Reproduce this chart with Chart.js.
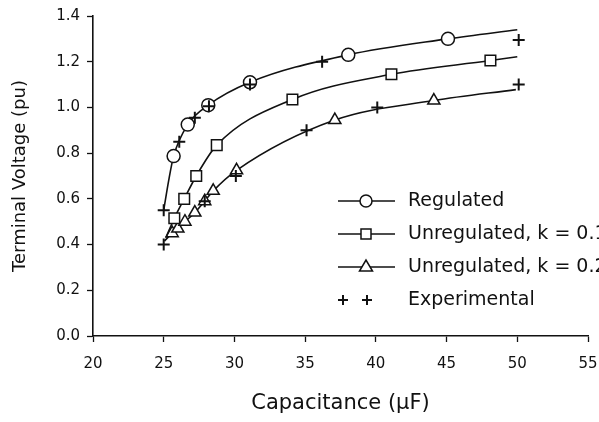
<!DOCTYPE html>
<html>
<head>
<meta charset="utf-8">
<script src="https://cdn.jsdelivr.net/npm/chart.js@4.4.0/dist/chart.umd.min.js"></script>
<style>
  html, body { margin: 0; padding: 0; background: #fff; }
  #wrap { width: 599px; height: 422px; position: relative; }
</style>
</head>
<body>
<div id="wrap"><canvas id="chart"></canvas></div>
<script>
// values (capacitance in uF, voltage in pu)
var xTicks = [20, 25, 30, 35, 40, 45, 50, 55];
var yTicks = [0.0, 0.2, 0.4, 0.6, 0.8, 1.0, 1.2, 1.4];

// model curves; "mark" tells which points carry a symbol
var regC    = [25.0, 25.35, 25.7, 26.7, 28.15, 31.1, 38.05, 45.1, 50.0];
var regV    = [0.55, 0.68, 0.787, 0.925, 1.01, 1.11, 1.23, 1.30, 1.34];
var regMark = [0, 0, 1, 1, 1, 1, 1, 1, 0];

var k1C    = [25.15, 25.75, 26.45, 27.3, 28.75, 34.1, 41.1, 48.1, 50.0];
var k1V    = [0.43, 0.515, 0.60, 0.70, 0.835, 1.035, 1.145, 1.205, 1.222];
var k1Mark = [0, 1, 1, 1, 1, 1, 1, 1, 0];

var k2C    = [25.05, 25.6, 26.0, 26.5, 27.2, 27.9, 28.5, 30.15, 37.1, 44.1, 49.9];
var k2V    = [0.415, 0.45, 0.47, 0.50, 0.54, 0.59, 0.635, 0.725, 0.945, 1.03, 1.078];
var k2Mark = [0, 1, 1, 1, 1, 1, 1, 1, 1, 1, 0];

var expC = [25.0, 25.0, 26.1, 27.2, 27.9, 28.2, 30.1, 31.1, 35.1, 36.2, 40.1, 50.1, 50.1];
var expV = [0.40, 0.55, 0.85, 0.955, 0.59, 1.005, 0.70, 1.10, 0.90, 1.20, 1.00, 1.295, 1.10];

var legendLabels = ['Regulated', 'Unregulated, k = 0.1', 'Unregulated, k = 0.2', 'Experimental'];

function pts(xs, ys) {
    return xs.map(function(x, i) { return { x: x, y: ys[i] }; });
}

var ink = '#111';
var FONT = "'DejaVu Sans', 'Liberation Sans', Arial, sans-serif";

function curve(label, xs, ys, marks, style, radius) {
    return {
        label: label,
        data: pts(xs, ys),
        showLine: true,
        borderColor: ink,
        borderWidth: 1.6,
        cubicInterpolationMode: 'monotone',
        pointStyle: style,
        pointRadius: function(c) { return marks[c.dataIndex] ? radius : 0; },
        pointHoverRadius: 0,
        pointBorderWidth: 1.5,
        pointBorderColor: ink,
        pointBackgroundColor: '#fff',
        order: 1
    };
}

// legend drawn inside the plot like the original
var plotLegend = {
    id: 'plotLegend',
    afterDraw: function(chart) {
        var ctx = chart.ctx;
        var rows = [201, 234, 267, 300];
        ctx.save();
        ctx.strokeStyle = ink;
        ctx.fillStyle = ink;
        ctx.font = '19px ' + FONT;
        ctx.textBaseline = 'middle';
        ctx.textAlign = 'left';
        rows.forEach(function(y, i) {
            ctx.lineWidth = 1.6;
            if (i < 3) {
                ctx.beginPath();
                ctx.moveTo(338, y);
                ctx.lineTo(395, y);
                ctx.stroke();
            }
            ctx.lineWidth = 1.5;
            var mx = 366;
            ctx.beginPath();
            if (i === 0) {
                ctx.arc(mx, y, 6, 0, Math.PI * 2);
            } else if (i === 1) {
                ctx.rect(mx - 5, y - 5, 10, 10);
            } else if (i === 2) {
                ctx.moveTo(mx - 6.5, y + 4);
                ctx.lineTo(mx + 6.5, y + 4);
                ctx.lineTo(mx, y - 7);
                ctx.closePath();
            }
            if (i < 3) {
                ctx.fillStyle = '#fff';
                ctx.fill();
                ctx.stroke();
                ctx.fillStyle = ink;
            } else {
                ctx.lineWidth = 2;
                [343, 367].forEach(function(cx) {
                    ctx.beginPath();
                    ctx.moveTo(cx - 5, y); ctx.lineTo(cx + 5, y);
                    ctx.moveTo(cx, y - 5); ctx.lineTo(cx, y + 5);
                    ctx.stroke();
                });
            }
            ctx.fillText(legendLabels[i], 408, y);
        });
        ctx.restore();
    }
};

new Chart(document.getElementById('chart'), {
    type: 'scatter',
    data: {
        datasets: [
            curve(legendLabels[0], regC, regV, regMark, 'circle', 6.5),
            curve(legendLabels[1], k1C, k1V, k1Mark, 'rect', 7.5),
            curve(legendLabels[2], k2C, k2V, k2Mark, 'triangle', 7),
            {
                label: legendLabels[3],
                data: pts(expC, expV),
                showLine: false,
                pointStyle: 'cross',
                pointRadius: 6,
                pointHoverRadius: 0,
                pointBorderWidth: 2,
                pointBorderColor: ink,
                order: 0
            }
        ]
    },
    options: {
        responsive: true,
        maintainAspectRatio: false,
        animation: false,
        events: [],
        layout: { padding: { top: 16, right: 0, left: 0, bottom: 0 } },
        plugins: { legend: { display: false }, tooltip: { enabled: false } },
        scales: {
            x: {
                type: 'linear',
                min: xTicks[0],
                max: xTicks[xTicks.length - 1],
                afterBuildTicks: function(s) { s.ticks = xTicks.map(function(v) { return { value: v }; }); },
                // fixed box so the plot edges sit where the scan has them
                afterFit: function(s) { s.height = 86; s.paddingLeft = 0; s.paddingRight = 11; },
                ticks: { color: ink, font: { family: FONT, size: 15 }, padding: 13, maxRotation: 0 },
                grid: { drawOnChartArea: false, tickLength: 6, color: ink, tickWidth: 1.3 },
                border: { display: true, color: ink, width: 1.6 },
                title: { display: true, text: 'Capacitance (\u00b5F)', color: ink, font: { family: FONT, size: 21 }, padding: { top: 0, bottom: 6 } }
            },
            y: {
                type: 'linear',
                min: yTicks[0],
                max: yTicks[yTicks.length - 1],
                afterBuildTicks: function(s) { s.ticks = yTicks.map(function(v) { return { value: v }; }); },
                afterFit: function(s) { s.width = 93; },
                ticks: { color: ink, font: { family: FONT, size: 15 }, padding: 7, callback: function(v) { return Number(v).toFixed(1); } },
                grid: { drawOnChartArea: false, tickLength: 6, color: ink, tickWidth: 1.3 },
                border: { display: true, color: ink, width: 1.6 },
                title: { display: true, text: 'Terminal Voltage (pu)', color: ink, font: { family: FONT, size: 18 }, padding: { top: 10, bottom: 0 } }
            }
        }
    },
    plugins: [plotLegend]
});
</script>
</body>
</html>
